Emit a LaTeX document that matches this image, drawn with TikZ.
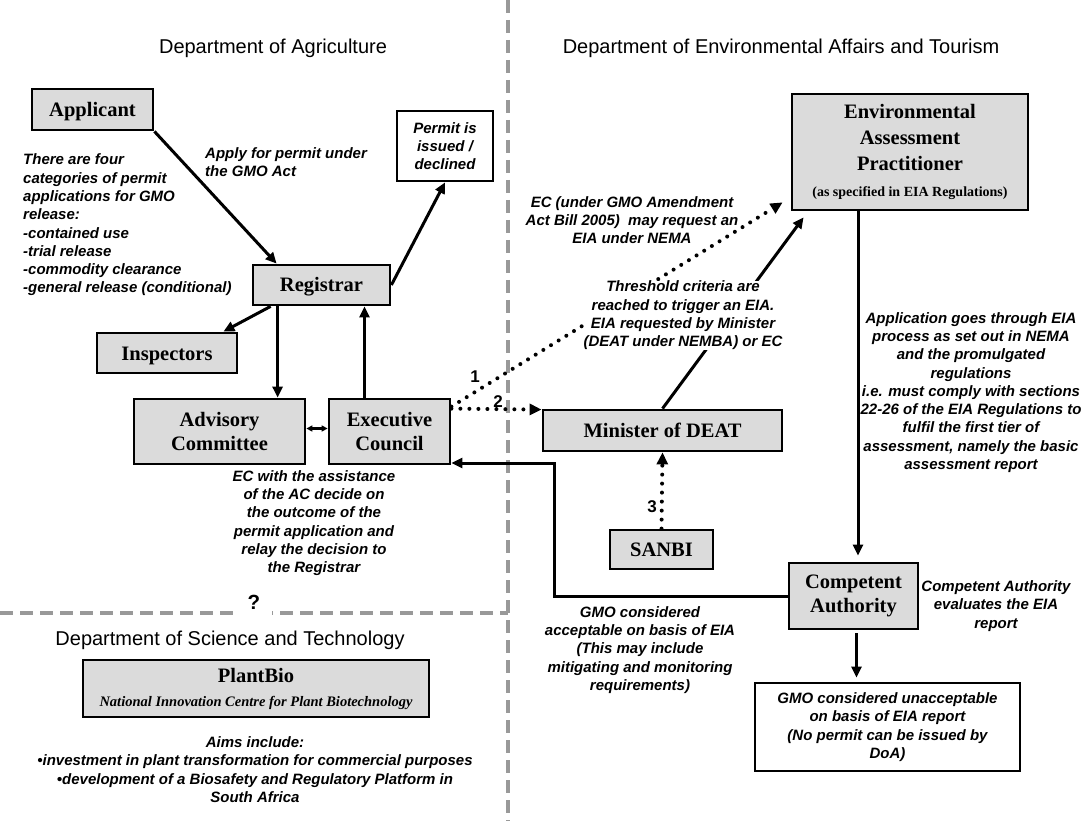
\documentclass[tikz,border=0pt]{standalone}
\usepackage{fontspec}
\setmainfont{Liberation Serif}
\newfontfamily\arialfont{Liberation Sans}
\usetikzlibrary{arrows.meta}

\begin{document}
\begin{tikzpicture}[x=1pt, y=-1pt]
	\tikzstyle{boxStyle}=[draw, line width=2.8pt, fill=black!14, inner sep=0pt, align=center, font=\fontsize{20.5}{24}\selectfont\bfseries]
	\tikzstyle{oneLineStyle}=[boxStyle, text height=14pt, text depth=0pt]
	\tikzstyle{plainBoxStyle}=[boxStyle, fill=white, font=\arialfont\fontsize{15}{18.3}\selectfont\bfseries\itshape]
	\tikzstyle{noteStyle}=[inner sep=0pt, align=center, font=\arialfont\fontsize{15}{18.3}\selectfont\bfseries\itshape]
	\tikzstyle{headStyle}=[inner sep=0pt, font=\arialfont\fontsize{20}{24}\selectfont]
	\tikzstyle{numStyle}=[inner sep=0pt, font=\arialfont\fontsize{17}{20}\selectfont\bfseries]
	\tikzstyle{arrowStyle}=[line width=3pt, -{Triangle[length=11pt, width=10pt]}]
	\tikzstyle{dotStyle}=[line width=4pt, line cap=round, dash pattern=on 0pt off 9pt, -{Triangle[length=12pt, width=11pt]}]
	\tikzstyle{divStyle}=[line width=4pt, black!40, dash pattern=on 13pt off 7pt]
	\useasboundingbox (0,0) rectangle (1085,821);
	\draw[divStyle] (508,0) -- (508,821);
	\draw[divStyle] (0,613) -- (508,613);
	\node[headStyle] (agri) at (273,48) {Department of Agriculture};
	\node[headStyle] (deat) at (781,48) {Department of Environmental Affairs and Tourism};
	\node[headStyle] (dst) at (230,640) {Department of Science and Technology};
	\node[headStyle, fill=white, minimum width=36pt, minimum height=28pt, font=\arialfont\fontsize{20.5}{24}\selectfont\bfseries] (query) at (254,602) {?};
	\node[oneLineStyle, minimum width=121pt, minimum height=41pt] (app) at (92.5,109.5) {Applicant};
	\node[plainBoxStyle, minimum width=96pt, minimum height=70pt] (permit) at (445,146) {Permit is\\issued /\\declined};
	\node[oneLineStyle, minimum width=137pt, minimum height=40pt] (reg) at (321.5,285) {Registrar};
	\node[oneLineStyle, minimum width=140pt, minimum height=40pt] (insp) at (167,353) {Inspectors};
	\node[boxStyle, minimum width=171pt, minimum height=65pt] (adv) at (219.5,431.5) {Advisory\\Committee};
	\node[boxStyle, minimum width=121pt, minimum height=65pt] (ec) at (389.5,431.5) {Executive\\Council};
	\node[oneLineStyle, minimum width=239pt, minimum height=41pt] (min) at (662.5,430.5) {Minister of DEAT};
	\node[oneLineStyle, minimum width=103pt, minimum height=39pt] (sanbi) at (661.5,549.5) {SANBI};
	\node[boxStyle, minimum width=236pt, minimum height=116pt, font=\fontsize{20.5}{26}\selectfont\bfseries] (eap) at (910,152) {Environmental\\Assessment\\Practitioner\\{\fontsize{14}{27}\selectfont (as specified in EIA Regulations)}};
	\node[boxStyle, minimum width=129pt, minimum height=66pt] (ca) at (853.5,596) {Competent\\Authority};
	\node[plainBoxStyle, minimum width=265pt, minimum height=88pt] (unacc) at (887.5,727) {GMO considered unacceptable\\on basis of EIA report\\(No permit can be issued by\\DoA)};
	\node[boxStyle, minimum width=346pt, minimum height=57pt] (plant) at (256,688.5) {PlantBio\\{\fontsize{14.5}{18}\selectfont\itshape National Innovation Centre for Plant Biotechnology}};
	\draw[arrowStyle] (app.south east) -- ([xshift=25pt]reg.north west);
	\draw[arrowStyle] (reg.east) -- (permit.south);
	\draw[arrowStyle] ([xshift=19pt]reg.south west) -- ([xshift=-15pt]insp.north east);
	\draw[arrowStyle] ([xshift=26pt]reg.south west) -- ([xshift=26pt]reg.south west |- adv.north);
	\draw[arrowStyle] ([xshift=-25pt]ec.north) -- ([xshift=-25pt]ec.north |- reg.south);
	\draw[line width=2.5pt, {Triangle[length=6pt, width=6pt]}-{Triangle[length=6pt, width=6pt]}] ([yshift=3pt]adv.east) -- ([yshift=3pt]ec.west);
	\draw[dotStyle] ([yshift=-9pt]ec.north east) -- ([xshift=-8pt, yshift=9pt]eap.south west);
	\draw[dotStyle] ([yshift=-11pt]ec.north east) -- ([yshift=-1pt]min.north west);
	\draw[dotStyle] (sanbi.north) -- (min.south);
	\draw[arrowStyle] (min.north) -- ([xshift=13pt, yshift=-6pt]eap.south west);
	\draw[arrowStyle, shorten >=6pt] ([xshift=-52pt]eap.south) -- ([xshift=-52pt]eap.south |- ca.north);
	\draw[arrowStyle, shorten >=4pt] ([xshift=3pt, yshift=-3pt]ca.south) -- ([xshift=3pt]ca.south |- unacc.north);
	\coordinate (turn) at (554,463);
	\draw[arrowStyle] (ca.west) -| (turn) -- (turn -| ec.east);
	\node[noteStyle, align=left, anchor=west] (cat) at (23,225) {There are four\\categories of permit\\applications for GMO\\release:\\-contained use\\-trial release\\-commodity clearance\\-general release (conditional)};
	\node[noteStyle, align=left, anchor=west] (apply) at (205,162) {Apply for permit under\\the GMO Act};
	\node[noteStyle] (amend) at (632,220) {EC (under GMO Amendment\\Act Bill 2005)\ \ may request an\\EIA under NEMA};
	\node[noteStyle, fill=white] (thresh) at (683,315.5) {Threshold criteria are\\reached to trigger an EIA.\\EIA requested by Minister\\(DEAT under NEMBA) or EC};
	\node[numStyle] (one) at (475,377) {1};
	\node[numStyle] (two) at (498,402) {2};
	\node[numStyle] (three) at (652,507) {3};
	\node[noteStyle] (decide) at (314,523) {EC with the assistance\\of the AC decide on\\the outcome of the\\permit application and\\relay the decision to\\the Registrar};
	\node[noteStyle] (process) at (971,392.5) {Application goes through EIA\\process as set out in NEMA\\and the promulgated\\regulations\\i.e. must comply with sections\\22-26 of the EIA Regulations to\\fulfil the first tier of\\assessment, namely the basic\\assessment report};
	\node[noteStyle] (evaluates) at (996,606) {Competent Authority\\evaluates the EIA\\report};
	\node[noteStyle] (accept) at (640,650) {GMO considered\\acceptable on basis of EIA\\(This may include\\mitigating and monitoring\\requirements)};
	\node[noteStyle] (aims) at (255,769.5) {Aims include:\\\textbullet investment in plant transformation for commercial purposes\\\textbullet development of a Biosafety and Regulatory Platform in\\South Africa};
\end{tikzpicture}
\end{document}
